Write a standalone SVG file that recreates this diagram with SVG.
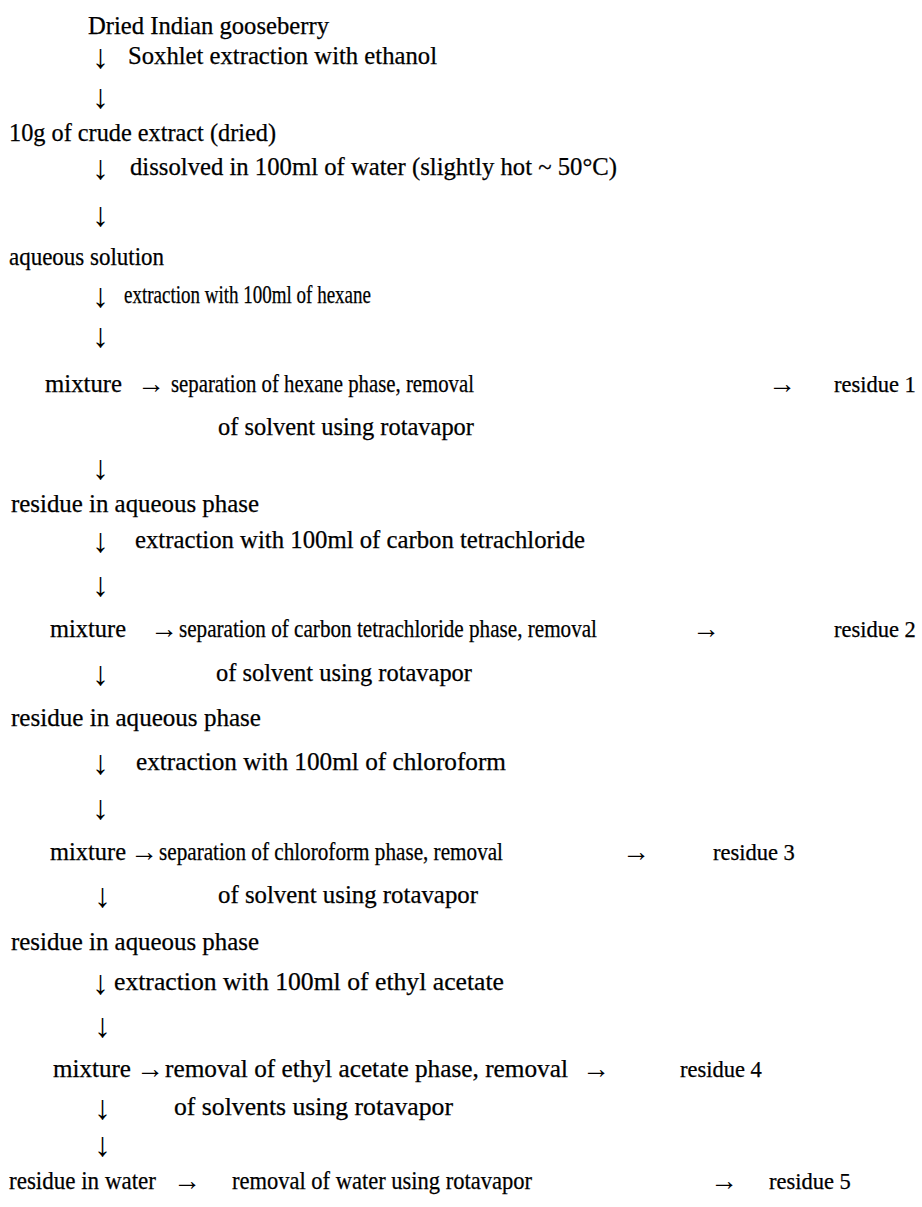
<svg xmlns="http://www.w3.org/2000/svg" width="922" height="1207" viewBox="0 0 922 1207">
<style>
text{font-family:"Liberation Serif","Times New Roman",serif;font-size:24.5px;fill:#000;stroke:#000;stroke-width:0.25}
.d{font-size:34px;stroke-width:0}
.r{font-size:28px;stroke-width:0}
.res{font-size:22.5px}
</style>
<rect width="922" height="1207" fill="#fff"/>
<g id="connectors">
<text class="d" x="92" y="68">↓</text>
<text class="d" x="92" y="108">↓</text>
<text class="d" x="92" y="179">↓</text>
<text class="d" x="92" y="226">↓</text>
<text class="d" x="92" y="307">↓</text>
<text class="d" x="92" y="347">↓</text>
<text class="r" x="137" y="393">→</text>
<text class="r" x="768" y="393">→</text>
<text class="d" x="92" y="479">↓</text>
<text class="d" x="92" y="552">↓</text>
<text class="d" x="92" y="596">↓</text>
<text class="r" x="150" y="638">→</text>
<text class="r" x="692" y="638">→</text>
<text class="d" x="92" y="685">↓</text>
<text class="d" x="92" y="774">↓</text>
<text class="d" x="92" y="819">↓</text>
<text class="r" x="130" y="861">→</text>
<text class="r" x="622" y="861">→</text>
<text class="d" x="94" y="907">↓</text>
<text class="d" x="92" y="994">↓</text>
<text class="d" x="94" y="1037">↓</text>
<text class="r" x="136" y="1078">→</text>
<text class="r" x="582" y="1078">→</text>
<text class="d" x="94" y="1119">↓</text>
<text class="d" x="94" y="1156">↓</text>
<text class="r" x="173" y="1190">→</text>
<text class="r" x="710" y="1190">→</text>
</g>
<g id="n1"><text x="88" y="34" textLength="241" lengthAdjust="spacingAndGlyphs">Dried Indian gooseberry</text></g>
<g id="s1"><text x="128" y="64" textLength="309" lengthAdjust="spacingAndGlyphs">Soxhlet extraction with ethanol</text></g>
<g id="n2"><text x="9" y="141" textLength="267" lengthAdjust="spacingAndGlyphs">10g of crude extract (dried)</text></g>
<g id="s2"><text x="130" y="175" textLength="487" lengthAdjust="spacingAndGlyphs">dissolved in 100ml of water (slightly hot ~ 50°C)</text></g>
<g id="n3"><text x="9" y="265" textLength="155" lengthAdjust="spacingAndGlyphs">aqueous solution</text></g>
<g id="s3"><text x="124" y="303" textLength="247" lengthAdjust="spacingAndGlyphs">extraction with 100ml of hexane</text></g>
<g id="n4">
<text x="45" y="392" textLength="77" lengthAdjust="spacingAndGlyphs">mixture</text>
<text x="171" y="392" textLength="303" lengthAdjust="spacingAndGlyphs">separation of hexane phase, removal</text>
<text x="218" y="435" textLength="256" lengthAdjust="spacingAndGlyphs">of solvent using rotavapor</text>
</g>
<g id="r1"><text class="res" x="834" y="392">residue 1</text></g>
<g id="n5"><text x="11" y="512" textLength="248" lengthAdjust="spacingAndGlyphs">residue in aqueous phase</text></g>
<g id="s5"><text x="135" y="548" textLength="450" lengthAdjust="spacingAndGlyphs">extraction with 100ml of carbon tetrachloride</text></g>
<g id="n6">
<text x="50" y="637" textLength="76" lengthAdjust="spacingAndGlyphs">mixture</text>
<text x="179" y="637" textLength="418" lengthAdjust="spacingAndGlyphs">separation  of carbon tetrachloride phase, removal</text>
<text x="216" y="681" textLength="256" lengthAdjust="spacingAndGlyphs">of solvent using rotavapor</text>
</g>
<g id="r2"><text class="res" x="834" y="637">residue 2</text></g>
<g id="n7"><text x="11" y="726" textLength="250" lengthAdjust="spacingAndGlyphs">residue in aqueous phase</text></g>
<g id="s7"><text x="136" y="770" textLength="370" lengthAdjust="spacingAndGlyphs">extraction with  100ml of chloroform</text></g>
<g id="n8">
<text x="50" y="860" textLength="76" lengthAdjust="spacingAndGlyphs">mixture</text>
<text x="159" y="860" textLength="344" lengthAdjust="spacingAndGlyphs">separation of chloroform phase, removal</text>
<text x="218" y="903" textLength="260" lengthAdjust="spacingAndGlyphs">of solvent using rotavapor</text>
</g>
<g id="r3"><text class="res" x="713" y="860">residue 3</text></g>
<g id="n9"><text x="11" y="950" textLength="248" lengthAdjust="spacingAndGlyphs">residue in aqueous phase</text></g>
<g id="s9"><text x="114" y="990" textLength="390" lengthAdjust="spacingAndGlyphs">extraction with  100ml of ethyl acetate</text></g>
<g id="n10">
<text x="53" y="1077" textLength="78" lengthAdjust="spacingAndGlyphs">mixture</text>
<text x="165" y="1077" textLength="403" lengthAdjust="spacingAndGlyphs">removal of ethyl acetate phase, removal</text>
<text x="174" y="1115" textLength="279" lengthAdjust="spacingAndGlyphs">of solvents using rotavapor</text>
</g>
<g id="r4"><text class="res" x="680" y="1077">residue 4</text></g>
<g id="n11">
<text x="9" y="1189" textLength="147" lengthAdjust="spacingAndGlyphs">residue in water</text>
<text x="232" y="1189" textLength="300" lengthAdjust="spacingAndGlyphs">removal of water using rotavapor</text>
</g>
<g id="r5"><text class="res" x="769" y="1189">residue 5</text></g>
</svg>
